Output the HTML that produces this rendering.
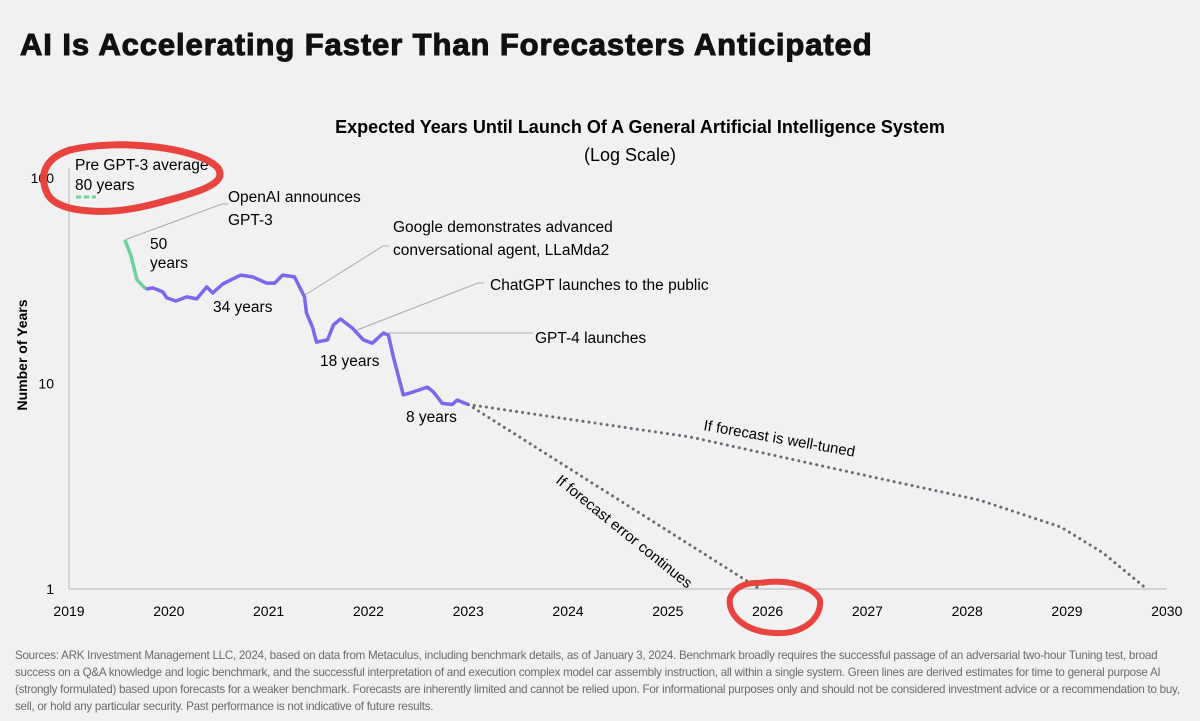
<!DOCTYPE html>
<html><head><meta charset="utf-8"><style>
html,body{margin:0;padding:0;background:#f1f1f1;}
body{width:1200px;height:721px;overflow:hidden;position:relative;font-family:"Liberation Sans",sans-serif;color:#111;}
#title{position:absolute;left:20px;top:27px;font-size:31px;font-weight:900;letter-spacing:0.9px;margin:0;-webkit-text-stroke:1px #111;color:#111;}
#foot{position:absolute;left:15px;top:647px;width:1180px;font-size:11.6px;line-height:17px;color:#6a6a6a;letter-spacing:-0.25px;}
svg{position:absolute;left:0;top:0;}
</style></head><body>
<h1 id="title">AI Is Accelerating Faster Than Forecasters Anticipated</h1>
<svg id="chart" width="1200" height="721"></svg>
<div id="foot">Sources: ARK Investment Management LLC, 2024, based on data from Metaculus, including benchmark details, as of January 3, 2024. Benchmark broadly requires the successful passage of an adversarial two-hour Tuning test, broad success on a Q&amp;A knowledge and logic benchmark, and the successful interpretation of and execution complex model car assembly instruction, all within a single system. Green lines are derived estimates for time to general purpose AI (strongly formulated) based upon forecasts for a weaker benchmark. Forecasts are inherently limited and cannot be relied upon. For informational purposes only and should not be considered investment advice or a recommendation to buy, sell, or hold any particular security. Past performance is not indicative of future results.</div>
<script>
const xTicks=[2019,2020,2021,2022,2023,2024,2025,2026,2027,2028,2029,2030];
const yTicks=[1,10,100];
const greenYears=[2019.56,2019.62,2019.68,2019.77];
const greenValues=[50,42,32,28.8];
const purpleYears=[2019.77,2019.84,2019.94,2019.98,2020.07,2020.18,2020.28,2020.38,2020.44,2020.54,2020.72,2020.84,2020.98,2021.06,2021.14,2021.26,2021.36,2021.38,2021.44,2021.48,2021.59,2021.65,2021.72,2021.84,2021.95,2022.04,2022.15,2022.20,2022.25,2022.35,2022.45,2022.59,2022.65,2022.74,2022.84,2022.89,2023.00];
const purpleValues=[28.8,29.2,27.9,26.1,25.2,26.4,25.8,29.5,27.6,30.5,33.7,33.0,30.8,30.8,33.7,33.0,26.4,22.0,18.8,15.9,16.3,19.3,20.6,18.6,16.3,15.7,17.6,17.2,13.5,8.8,9.1,9.6,9.1,8.0,7.9,8.3,7.9];
const tunedYears=[2023.0,2025.22,2027.06,2028.12,2028.94,2029.36,2029.8];
const tunedValues=[7.9,5.5,3.5,2.71,2.0,1.5,1.0];
const errorYears=[2023.0,2025.92];
const errorValues=[7.9,1.0];

const X=y=>69+(y-2019)*99.8;
const Y=v=>589-Math.log10(v)*205.5;
const svg=document.getElementById('chart');
const NS='http://www.w3.org/2000/svg';
function mk(t,a,txt){const e=document.createElementNS(NS,t);for(const k in a)e.setAttribute(k,a[k]);if(txt!==undefined)e.textContent=txt;svg.appendChild(e);return e;}
const F='"Liberation Sans",sans-serif';

let e;
e=mk('text',{x:640,y:133,'text-anchor':'middle','font-size':18,'font-weight':'bold','font-family':F},'Expected Years Until Launch Of A General Artificial Intelligence System');


e=mk('text',{x:630,y:161,'text-anchor':'middle','font-size':18,'font-family':F},'(Log Scale)');


e=mk('text',{x:0,y:0,transform:'translate(27,355) rotate(-90)','text-anchor':'middle','font-size':14,'font-weight':'bold','font-family':F},'Number of Years');



e=mk('line',{x1:69,y1:168,x2:69,y2:589,stroke:'#c8c8c8','stroke-width':1.5});


e=mk('line',{x1:69,y1:589,x2:1167,y2:589,stroke:'#c8c8c8','stroke-width':1.5});


yTicks.forEach(v=>{
 e=mk('text',{x:54,y:Y(v)+5,'text-anchor':'end','font-size':14,'font-family':F},String(v));
 
 
});
xTicks.forEach(v=>{
 e=mk('text',{x:X(v),y:616,'text-anchor':'middle','font-size':14,'font-family':F},String(v));
 
 
});
function pts(ys,vs){return ys.map((y,i)=>X(y).toFixed(1)+','+Y(vs[i]).toFixed(1)).join(' ');}

[[X(2019.56),Y(50),222,204],[305,295,383,246],[357,330,478,283],[388,333,527,333]].forEach(c=>{
 e=mk('polyline',{points:`${c[0]},${c[1]} ${c[2]},${c[3]} ${c[2]+6},${c[3]}`,fill:'none',stroke:'#aaa','stroke-width':1});
 
 
});

e=mk('polyline',{points:pts(tunedYears,tunedValues),fill:'none',stroke:'#6b6b78','stroke-width':3,'stroke-dasharray':'0.1 6','stroke-linecap':'round'});


e=mk('polyline',{points:pts(errorYears,errorValues),fill:'none',stroke:'#6b6b78','stroke-width':3,'stroke-dasharray':'0.1 6','stroke-linecap':'round'});


e=mk('polyline',{points:pts(greenYears,greenValues),fill:'none',stroke:'#6dd19a','stroke-width':3.5,'stroke-linejoin':'round'});


e=mk('polyline',{points:pts(purpleYears,purpleValues),fill:'none',stroke:'#7b68ee','stroke-width':3.5,'stroke-linejoin':'round'});


e=mk('line',{x1:76,y1:197,x2:96,y2:197,stroke:'#6dd19a','stroke-width':3,'stroke-dasharray':'5 3'});



const labels=[
 [75,170,'Pre GPT-3 average','pre-gpt3-label'],[75,190,'80 years','pre-gpt3-label'],
 [228,202,'OpenAI announces','gpt3-annotation'],[228,225,'GPT-3','gpt3-annotation'],
 [150,249,'50','label-50-years'],[150,268,'years','label-50-years'],
 [213,312,'34 years','label-34-years'],[320,366,'18 years','label-18-years'],[406,422,'8 years','label-8-years'],
 [393,232,'Google demonstrates advanced','google-annotation'],[393,255,'conversational agent, LLaMda2','google-annotation'],
 [490,290,'ChatGPT launches to the public','chatgpt-annotation'],[535,343,'GPT-4 launches','gpt4-annotation']];
labels.forEach(l=>{
 e=mk('text',{x:l[0],y:l[1],'font-size':15.5,'font-family':F},l[2]);
 
 
});
e=mk('text',{x:0,y:0,transform:'translate(703,430) rotate(10)','font-size':15,'font-family':F},'If forecast is well-tuned');


e=mk('text',{x:0,y:0,transform:'translate(555,482) rotate(39)','font-size':15,'font-family':F},'If forecast error continues');



e=mk('path',{d:'M70,150 C120,138 200,148 218,168 C228,184 200,192 150,205 C110,215 60,214 48,195 C38,175 45,158 70,150 Z',fill:'none',stroke:'#e8433e','stroke-width':7});


e=mk('path',{d:'M760,583 C790,578 815,588 820,600 C822,620 800,635 775,633 C745,632 727,615 730,598 C735,586 748,582 760,583',fill:'none',stroke:'#e8433e','stroke-width':6});


</script>
</body></html>
